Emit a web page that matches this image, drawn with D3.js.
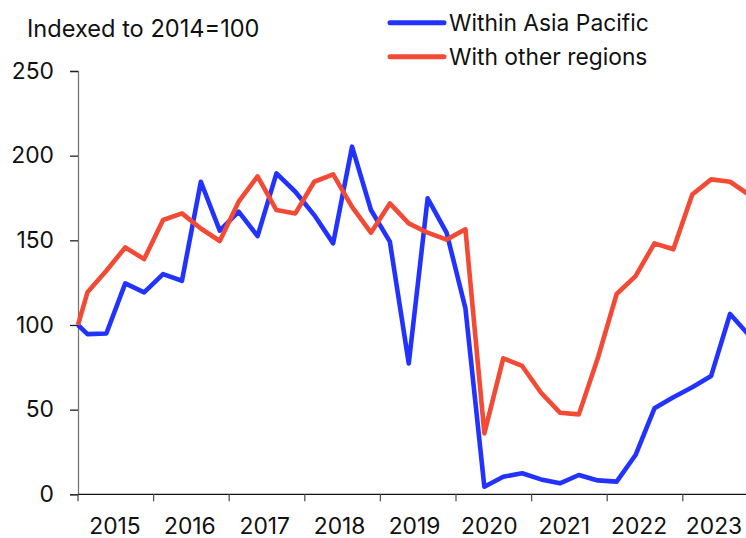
<!DOCTYPE html>
<html>
<head>
<meta charset="utf-8">
<script src="https://cdn.jsdelivr.net/npm/d3@7"></script>
<style>
  body { margin: 0; background: #fff; }
  svg text { font-family: Inter, "Liberation Sans", Arial, sans-serif; fill: #111; }
</style>
</head>
<body>
<div class="chart"></div>
<script>
// quarterly index, 2015 Q1 .. 2023 Q4 (base point 2014 = 100 at start)
const years = [2015, 2016, 2017, 2018, 2019, 2020, 2021, 2022, 2023];
const yTicks = [0, 50, 100, 150, 200, 250];
const baseValue = 100;

const withinAsiaPacific = [
  94.6, 95, 124.6, 119.3,
  130, 126.1, 184.6, 155.7,
  166.9, 152.5, 189.5, 178.7,
  164.9, 148.2, 205.3, 167.9,
  149.2, 77.3, 174.8, 154.6,
  109.8, 4.5, 10.4, 12.4,
  8.8, 6.5, 11.4, 8.2,
  7.5, 23.2, 50.8, 57.3,
  63.2, 69.9, 106.5, 94
];
const withOtherRegions = [
  119.3, 132, 145.8, 138.9,
  162, 165.9, 157, 149.6,
  172.8, 187.8, 167.9, 165.9,
  184.6, 188.9, 169.8, 154.5,
  171.8, 160, 154.5, 150.4,
  156.5, 36, 80.3, 75.8,
  60, 48.2, 47.2, 80.3,
  118.3, 128.9, 148.2, 144.7,
  177.1, 186, 184.6, 177
];
const seriesNames = ['Within Asia Pacific', 'With other regions'];
const colors = ['#2233ff', '#f24a35'];

const width = 746, height = 538;
const x0 = 78, y0 = 494.3, yTop = 71;
const yearWidth = 75.6;
const fontSize = 22.8;

const svg = d3.select('.chart')
  .append('svg')
  .attr('width', width)
  .attr('height', height);

const xScale = d3.scaleLinear()
  .domain([2015, 2024])
  .range([x0, x0 + 9 * yearWidth]);

// year labels sit a touch tighter than the ticks so 2023 still fits
const labelScale = d3.scaleLinear()
  .domain([2015, 2023])
  .range([115, 714]);

const yScale = d3.scaleLinear()
  .domain([0, 250])
  .range([y0, yTop]);

// turn a series into points: base at 2015.0, then mid-quarter
function toPoints(vals) {
  const pts = [{t: 2015, v: baseValue}];
  vals.forEach((v, i) => pts.push({t: 2015 + (i + 0.5) / 4, v: v}));
  return pts;
}

// y axis
const yAxis = d3.axisLeft(yScale)
  .tickValues(yTicks)
  .tickSize(8)
  .tickPadding(16);

const gy = svg.append('g')
  .attr('transform', `translate(${x0},0)`)
  .call(yAxis);
gy.select('.domain').attr('stroke', '#777').attr('stroke-width', 1.3);
gy.selectAll('.tick line').attr('stroke', '#222').attr('stroke-width', 1.3);
gy.selectAll('.tick text')
  .attr('font-size', fontSize)
  .attr('fill', '#111');

// x axis
const gx = svg.append('g')
  .attr('transform', `translate(0,${y0})`);
gx.append('line')
  .attr('x1', x0).attr('x2', width)
  .attr('stroke', '#111').attr('stroke-width', 1.3);
gx.selectAll('.xtick')
  .data(years)
  .enter()
  .append('line')
  .attr('x1', d => xScale(d)).attr('x2', d => xScale(d))
  .attr('y1', 0).attr('y2', 7)
  .attr('stroke', '#555').attr('stroke-width', 1.3);
gx.selectAll('.xlabel')
  .data(years)
  .enter()
  .append('text')
  .attr('x', d => labelScale(d))
  .attr('y', 40)
  .attr('text-anchor', 'middle')
  .attr('font-size', fontSize)
  .text(d => d);

// lines
const line = d3.line()
  .x(d => xScale(d.t))
  .y(d => yScale(d.v));

[withinAsiaPacific, withOtherRegions].forEach((vals, i) => {
  svg.append('path')
    .datum(toPoints(vals))
    .attr('fill', 'none')
    .attr('stroke', colors[i])
    .attr('stroke-width', 4.6)
    .attr('stroke-linejoin', 'round')
    .attr('d', line);
});

// title
svg.append('text')
  .attr('x', 27)
  .attr('y', 37)
  .attr('font-size', 23.6)
  .text('Indexed to 2014=100');

// legend
const legend = svg.append('g');
seriesNames.forEach((name, i) => {
  const ly = 22.7 + i * 34;
  legend.append('line')
    .attr('x1', 390).attr('x2', 444)
    .attr('y1', ly).attr('y2', ly)
    .attr('stroke', colors[i])
    .attr('stroke-width', 5)
    .attr('stroke-linecap', 'round');
  legend.append('text')
    .attr('x', 449)
    .attr('y', ly + 8)
    .attr('font-size', fontSize)
    .text(name);
});
</script>
</body>
</html>
